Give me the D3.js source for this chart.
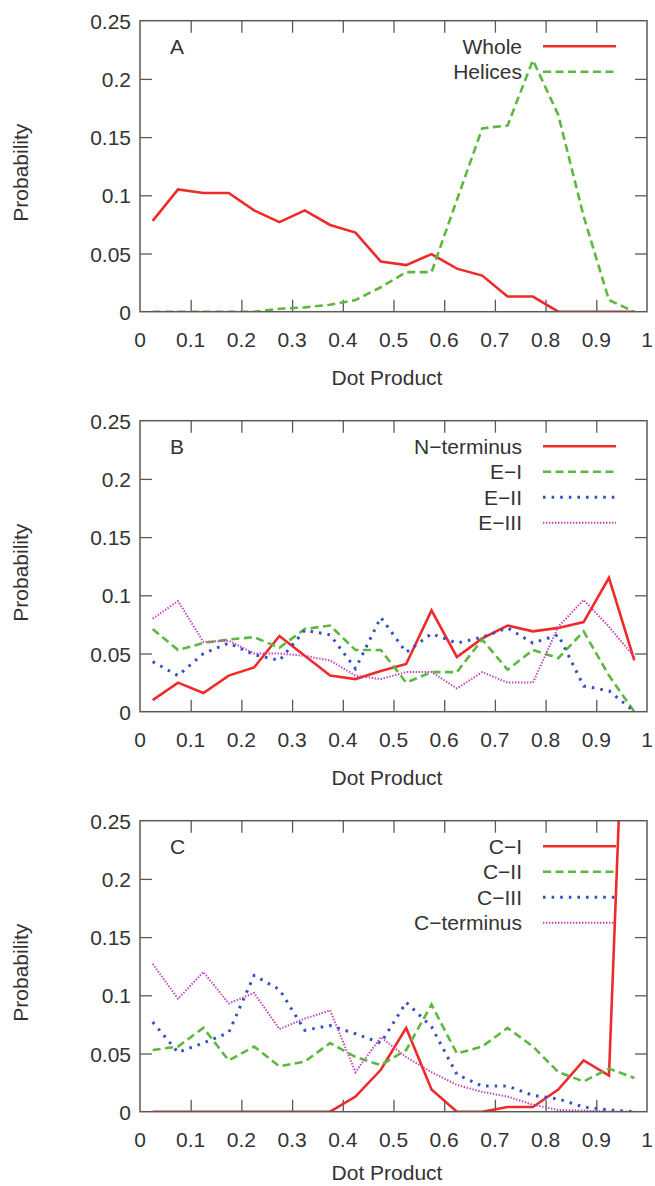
<!DOCTYPE html>
<html>
<head>
<meta charset="utf-8">
<script src="https://cdn.jsdelivr.net/npm/d3@7"></script>
<style>
  html, body { margin: 0; padding: 0; background: #fff; }
  text { font-family: "Liberation Sans", Arial, Helvetica, sans-serif; fill: #333; }
</style>
</head>
<body>
<svg id="chart" width="655" height="1186"></svg>
<script>
// ---- data ----
const xBins = [0.025,0.075,0.125,0.175,0.225,0.275,0.325,0.375,0.425,0.475,
               0.525,0.575,0.625,0.675,0.725,0.775,0.825,0.875,0.925,0.975];
const xTicks = [0,0.1,0.2,0.3,0.4,0.5,0.6,0.7,0.8,0.9,1];
const xTickLabels = ["0","0.1","0.2","0.3","0.4","0.5","0.6","0.7","0.8","0.9","1"];
const yTicks = [0,0.05,0.1,0.15,0.2,0.25];
const yTickLabels = ["0","0.05","0.1","0.15","0.2","0.25"];
const panelLabels = ["A","B","C"];

// Panel A
const whole   = [0.078,0.105,0.102,0.102,0.087,0.077,0.087,0.0745,0.068,0.043,
                 0.040,0.0495,0.037,0.031,0.013,0.013,0,0,0,0];
const helices = [0,0,0,0,0,0.0025,0.0037,0.006,0.010,0.021,
                 0.034,0.034,0.096,0.1575,0.160,0.216,0.169,0.082,0.010,0];
// Panel B
const nTerminus = [0.010,0.025,0.016,0.031,0.038,0.065,0.048,0.031,0.028,0.035,
                   0.041,0.087,0.047,0.063,0.074,0.069,0.072,0.077,0.115,0.044];
const eI   = [0.071,0.053,0.059,0.062,0.064,0.055,0.071,0.074,0.053,0.053,
              0.025,0.034,0.034,0.062,0.036,0.053,0.046,0.069,0.031,0];
const eII  = [0.043,0.031,0.050,0.059,0.049,0.044,0.070,0.066,0.037,0.081,
              0.051,0.067,0.059,0.064,0.072,0.059,0.066,0.022,0.018,0];
const eIII = [0.080,0.095,0.060,0.061,0.050,0.050,0.048,0.044,0.031,0.028,
              0.034,0.034,0.020,0.034,0.025,0.025,0.073,0.096,0.073,0.047];
// Panel C
const cI   = [0,0,0,0,0,0,0,0,0.013,0.036,
              0.072,0.019,0,0,0.004,0.004,0.019,0.044,0.031,0.60];
const cII  = [0.053,0.056,0.072,0.044,0.056,0.039,0.043,0.059,0.047,0.040,
              0.053,0.092,0.050,0.056,0.072,0.056,0.034,0.026,0.037,0.029];
const cIII = [0.077,0.051,0.059,0.068,0.117,0.105,0.070,0.074,0.067,0.059,
              0.094,0.073,0.032,0.022,0.022,0.014,0.011,0.004,0.0015,0];
const cTerminus = [0.127,0.097,0.120,0.093,0.102,0.071,0.080,0.087,0.034,0.064,
                   0.047,0.034,0.023,0.017,0.013,0.006,0.0015,0.001,0,0];

const seriesNamesA = ["Whole","Helices"];
const seriesNamesB = ["N\u2212terminus","E\u2212I","E\u2212II","E\u2212III"];
const seriesNamesC = ["C\u2212I","C\u2212II","C\u2212III","C\u2212terminus"];

// ---- styles ----
const styles = [
  { color: "#ee2b2b", width: 2.6, dash: null },
  { color: "#5cb83e", width: 2.6, dash: "8,4.5" },
  { color: "#3550c4", width: 3,   dash: "2.6,6" },
  { color: "#c040bc", width: 2,   dash: "1.4,1.6" }
];

const panels = [
  { label: panelLabels[0], names: seriesNamesA, data: [whole, helices] },
  { label: panelLabels[1], names: seriesNamesB, data: [nTerminus, eI, eII, eIII] },
  { label: panelLabels[2], names: seriesNamesC, data: [cI, cII, cIII, cTerminus] }
];

const svg = d3.select("#chart");
const left = 140, right = 647, top0 = 20.7, plotH = 291, step = 400;
const fs = 21;
const frameColor = "#5a5a5a";

panels.forEach((p, pi) => {
  const top = top0 + pi * step, bottom = top + plotH;
  const x = d3.scaleLinear().domain([0,1]).range([left, right]);
  const y = d3.scaleLinear().domain([0,0.25]).range([bottom, top]);
  const g = svg.append("g");

  const clipId = "clip" + pi;
  g.append("clipPath").attr("id", clipId).append("rect")
    .attr("x", left).attr("y", top).attr("width", right - left).attr("height", plotH);

  // inward ticks via d3 axes
  const tickLen = 12;
  const bottomAxis = d3.axisTop(x).tickValues(xTicks.slice(1, -1)).tickSize(tickLen).tickFormat("");
  const topAxis = d3.axisBottom(x).tickValues(xTicks.slice(1, -1)).tickSize(tickLen).tickFormat("");
  const leftAxis = d3.axisRight(y).tickValues(yTicks.slice(1, -1)).tickSize(tickLen).tickFormat("");
  const rightAxis = d3.axisLeft(y).tickValues(yTicks.slice(1, -1)).tickSize(tickLen).tickFormat("");
  [[bottomAxis, `translate(0,${bottom})`], [topAxis, `translate(0,${top})`],
   [leftAxis, `translate(${left},0)`], [rightAxis, `translate(${right},0)`]].forEach(([ax, tr]) => {
    const a = g.append("g").attr("transform", tr).call(ax);
    a.select(".domain").remove();
    a.selectAll("line").attr("stroke", frameColor).attr("stroke-width", 1.3);
  });

  // tick labels
  g.append("g").selectAll("text").data(xTicks).join("text")
    .attr("x", d => x(d)).attr("y", bottom + 35)
    .attr("text-anchor", "middle").attr("font-size", fs)
    .text((d, i) => xTickLabels[i]);
  g.append("g").selectAll("text").data(yTicks).join("text")
    .attr("x", left - 9).attr("y", d => y(d) + 8)
    .attr("text-anchor", "end").attr("font-size", fs)
    .text((d, i) => yTickLabels[i]);

  // axis titles (last one nudged up slightly so it stays inside the page)
  g.append("text").attr("x", 387).attr("y", Math.min(bottom + 73, 1180))
    .attr("text-anchor", "middle").attr("font-size", fs).text("Dot Product");
  g.append("text").attr("transform", `translate(28,${top + 152}) rotate(-90)`)
    .attr("text-anchor", "middle").attr("font-size", fs).text("Probability");

  // panel label
  g.append("text").attr("x", 170).attr("y", top + 33.5)
    .attr("font-size", fs).text(p.label);

  // legend
  p.names.forEach((name, si) => {
    const st = styles[si];
    const ly = top + 25.5 + si * 25.5;
    g.append("text").attr("x", 522).attr("y", ly + 7.5)
      .attr("text-anchor", "end").attr("font-size", fs).text(name);
    g.append("line").attr("x1", 543).attr("x2", 616).attr("y1", ly).attr("y2", ly)
      .attr("stroke", st.color).attr("stroke-width", st.width)
      .attr("stroke-dasharray", st.dash);
  });

  // series
  const line = d3.line().x((d, i) => x(xBins[i])).y(d => y(d));
  p.data.forEach((vals, si) => {
    const st = styles[si];
    g.append("path").datum(vals)
      .attr("clip-path", `url(#${clipId})`)
      .attr("d", line).attr("fill", "none")
      .attr("stroke", st.color).attr("stroke-width", st.width)
      .attr("stroke-dasharray", st.dash)
      .attr("stroke-linejoin", "miter");
  });

  // frame
  g.append("rect").attr("x", left).attr("y", top).attr("width", right - left).attr("height", plotH)
    .attr("fill", "none").attr("stroke", frameColor).attr("stroke-width", 1.5);
});
</script>
</body>
</html>
